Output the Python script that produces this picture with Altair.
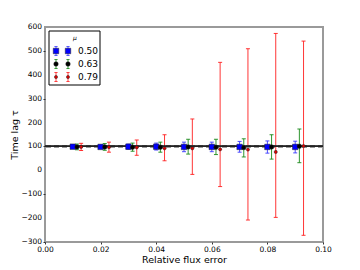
import altair as alt
import pandas as pd

flux_error = [0.01, 0.02, 0.03, 0.04, 0.05, 0.06, 0.07, 0.08, 0.09]
mu_labels = ["0.50", "0.63", "0.79"]
x_shift = [0.0, 0.0015, 0.003]

lag_050 = [99, 98, 99, 99, 98, 98, 98, 98, 98]
lo_050 = [93, 92, 88, 85, 78, 78, 76, 72, 73]
hi_050 = [105, 106, 110, 114, 118, 118, 121, 123, 122]

lag_063 = [98, 98, 97, 97, 98, 97, 95, 98, 101]
lo_063 = [86, 84, 80, 76, 68, 66, 56, 47, 32]
hi_063 = [110, 112, 114, 118, 130, 130, 132, 149, 173]

lag_079 = [98, 97, 96, 92, 92, 88, 87, 77, 102]
lo_079 = [83, 76, 63, 40, -17, -68, -208, -197, -272]
hi_079 = [113, 118, 127, 149, 215, 452, 509, 573, 541]

y_ticks = [-300, -200, -100, 0, 100, 200, 300, 400, 500, 600]
x_ticks = [0.0, 0.02, 0.04, 0.06, 0.08, 0.10]
true_lag = 100

rows = []
for lab, sh, c, lo, hi in zip(mu_labels, x_shift,
                              [lag_050, lag_063, lag_079],
                              [lo_050, lo_063, lo_079],
                              [hi_050, hi_063, hi_079]):
    for i, fe in enumerate(flux_error):
        rows.append(dict(mu=lab, x=fe + sh, lag=c[i], lo=lo[i], hi=hi[i]))
df = pd.DataFrame(rows)
legend_df = pd.DataFrame({"mu": mu_labels})
ytick_df = pd.DataFrame({"v": y_ticks})

xs = alt.Scale(domain=[0, 0.1], nice=False, zero=False)
ys = alt.Scale(domain=[-300, 600], nice=False, zero=False)
bar_scale = alt.Scale(domain=mu_labels, range=["#3b3bff", "#1a8a1a", "#ff2020"])
fill_scale = alt.Scale(domain=mu_labels, range=["#0000ff", "#000000", "#e00000"])
shape_scale = alt.Scale(domain=mu_labels, range=["square", "circle", "circle"])
size_scale = alt.Scale(domain=mu_labels, range=[30, 10, 18])

x_axis = alt.Axis(values=x_ticks, format=".2f", title="Relative flux error",
                  labelPadding=1, titlePadding=2, labelFlush=False, labelOverlap=False)
y_axis = alt.Axis(values=y_ticks, format="d", title="Time lag τ", labels=False,
                  titlePadding=23)

base = alt.Chart(df)

bars = base.mark_rule(strokeWidth=1, opacity=0.9).encode(
    x=alt.X("x:Q", scale=xs, axis=x_axis),
    y=alt.Y("lo:Q", scale=ys, axis=y_axis),
    y2="hi:Q",
    color=alt.Color("mu:N", scale=bar_scale, legend=None),
)
dash_line = base.mark_rule(color="#9a9a9a", strokeWidth=2.2, strokeDash=[5, 3]).encode(
    y=alt.YDatum(true_lag))
solid_line = base.mark_rule(color="#222222", strokeWidth=1).encode(
    y=alt.YDatum(true_lag))

cap_path = "M-1,0L1,0"
caps_lo = base.mark_point(shape=cap_path, size=16, strokeWidth=1, opacity=0.9, filled=False).encode(
    x="x:Q", y="lo:Q", color=alt.Color("mu:N", scale=bar_scale, legend=None))
caps_hi = base.mark_point(shape=cap_path, size=16, strokeWidth=1, opacity=0.9, filled=False).encode(
    x="x:Q", y="hi:Q", color=alt.Color("mu:N", scale=bar_scale, legend=None))

markers = base.mark_point(filled=True, strokeWidth=0.5, stroke="#202020", opacity=1).encode(
    x="x:Q", y="lag:Q",
    fill=alt.Fill("mu:N", scale=fill_scale, legend=None),
    shape=alt.Shape("mu:N", scale=shape_scale, legend=None),
    size=alt.Size("mu:N", scale=size_scale, legend=None),
)

ylabels = alt.Chart(ytick_df).mark_text(
    align="right", baseline="middle", fontSize=7.5, font="DejaVu Sans", color="black").encode(
    x=alt.value(-3), y=alt.Y("v:Q"), text=alt.Text("v:Q", format="d"))

main = alt.layer(bars, dash_line, solid_line, caps_lo, caps_hi, markers, ylabels)

# hand-built legend box (two markers with error bars per entry, as in matplotlib)
lbase = alt.Chart(legend_df)
leg_y = alt.Y("mu:N", scale=alt.Scale(type="point", domain=mu_labels, range=[24, 50], padding=0), axis=None)
box = lbase.transform_filter(alt.datum.mu == mu_labels[0]).mark_rect(
    fill="white", stroke="black", strokeWidth=1).encode(
    x=alt.value(4), x2=alt.value(55), y=alt.value(4), y2=alt.value(58))
ltitle = lbase.transform_filter(alt.datum.mu == mu_labels[0]).mark_text(
    text="μ", fontStyle="italic", fontSize=6, font="DejaVu Sans", color="black").encode(
    x=alt.value(30), y=alt.value(11))
err_glyph = "M0,-1L0,1 M-0.35,-1L0.35,-1 M-0.35,1L0.35,1"
lerr1 = lbase.mark_point(shape=err_glyph, size=81, strokeWidth=1, filled=False, opacity=0.85).encode(
    x=alt.value(11), y=leg_y, color=alt.Color("mu:N", scale=bar_scale, legend=None))
lerr2 = lbase.mark_point(shape=err_glyph, size=81, strokeWidth=1, filled=False, opacity=0.85).encode(
    x=alt.value(23), y=leg_y, color=alt.Color("mu:N", scale=bar_scale, legend=None))
lmk1 = lbase.mark_point(filled=True, strokeWidth=0.5, stroke="#202020", opacity=1).encode(
    x=alt.value(11), y=leg_y,
    fill=alt.Fill("mu:N", scale=fill_scale, legend=None),
    shape=alt.Shape("mu:N", scale=shape_scale, legend=None),
    size=alt.Size("mu:N", scale=size_scale, legend=None))
lmk2 = lbase.mark_point(filled=True, strokeWidth=0.5, stroke="#202020", opacity=1).encode(
    x=alt.value(23), y=leg_y,
    fill=alt.Fill("mu:N", scale=fill_scale, legend=None),
    shape=alt.Shape("mu:N", scale=shape_scale, legend=None),
    size=alt.Size("mu:N", scale=size_scale, legend=None))
llab = lbase.mark_text(align="left", baseline="middle", fontSize=9, font="DejaVu Sans", color="black").encode(
    x=alt.value(33), y=leg_y, text="mu:N")
legend = alt.layer(box, ltitle, lerr1, lerr2, lmk1, lmk2, llab)

chart = alt.layer(main, legend).resolve_scale(y="independent").properties(
    width=278, height=215,
    autosize=alt.AutoSizeParams(type="none"),
    padding={"left": 37, "top": 19, "right": 29, "bottom": 28},
).configure_view(
    stroke="#9a9a9a", strokeWidth=2
).configure_axis(
    labelFont="DejaVu Sans", labelFontSize=7.5, labelColor="black",
    titleFont="DejaVu Sans", titleFontSize=9.5, titleFontWeight="normal", titleColor="black",
    grid=False, domain=False, tickColor="#333333", tickSize=2,
)

chart.save("out.html", embed_options={"renderer": "svg", "actions": False})
